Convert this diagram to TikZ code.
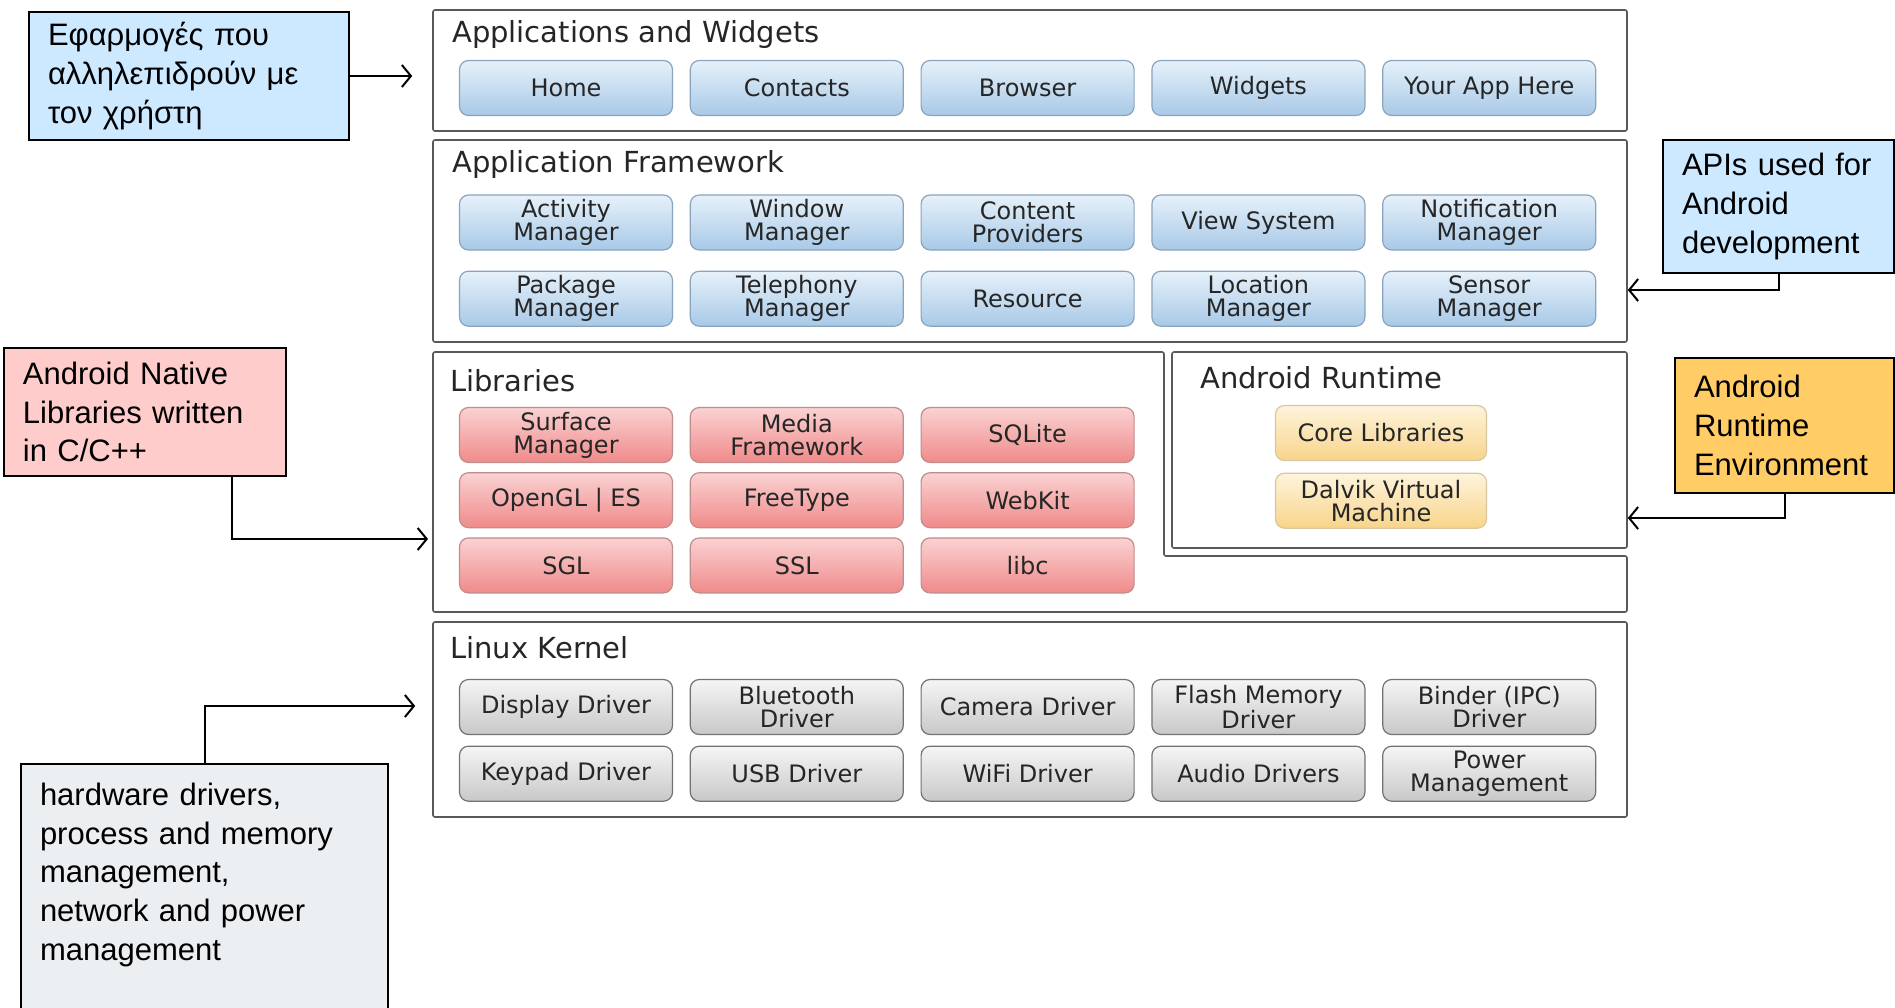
\documentclass[tikz,border=0pt]{standalone}
\usepackage{fontspec}
\newfontfamily\notefont{Liberation Sans}
\newfontfamily\layerfont{DejaVu Sans}
\usepackage{tikz}
\usetikzlibrary{positioning, shadings, arrows.meta}

\definecolor{noteblue}{HTML}{CCE9FF}
\definecolor{notepink}{HTML}{FFCCCC}
\definecolor{noteorange}{HTML}{FFCC66}
\definecolor{notegray}{HTML}{EBEFF2}
\definecolor{bluetop}{HTML}{E6F1FA}
\definecolor{bluebot}{HTML}{A8C9E7}
\definecolor{blueline}{HTML}{8AA4BE}
\definecolor{redtop}{HTML}{FAD2D2}
\definecolor{redmid}{HTML}{F7A9A9}
\definecolor{redbot}{HTML}{F08A8A}
\definecolor{redline}{HTML}{C08C8C}
\definecolor{yellowtop}{HTML}{FEF4DC}
\definecolor{yellowbot}{HTML}{F8D48A}
\definecolor{yellowline}{HTML}{D9C79E}
\definecolor{graytop}{HTML}{F5F5F5}
\definecolor{graybot}{HTML}{C8C8C8}

\begin{document}
\begin{tikzpicture}[x=1pt,y=-1pt,>={Straight Barb[length=9pt,width=22pt]},node distance=16.6pt]
				\tikzstyle{layer} = [draw=black!65, line width=1.6pt, rounded corners=2pt, fill=white]
				\tikzstyle{layertitle} = [font=\layerfont\fontsize{29}{32}\selectfont, anchor=west, inner sep=0pt, text=black!85]
				\tikzstyle{btn} = [rounded corners=9pt, line width=1.2pt, minimum width=213pt, minimum height=55pt, inner sep=1pt, align=center, font=\layerfont\fontsize{24}{23}\selectfont, text=black!85]
				\tikzstyle{bluebtn} = [btn, draw=blueline, top color=bluetop, bottom color=bluebot]
				\tikzstyle{redbtn} = [btn, draw=redline, top color=redtop, middle color=redmid, bottom color=redbot]
				\tikzstyle{yellowbtn} = [btn, draw=yellowline, top color=yellowtop, bottom color=yellowbot, minimum width=211pt]
				\tikzstyle{graybtn} = [btn, draw=black!55, top color=graytop, bottom color=graybot]
				\tikzstyle{note} = [draw=black, line width=1.6pt, inner xsep=19pt, inner ysep=0pt, align=left, font=\notefont\fontsize{31}{38.7}\selectfont]
				\tikzstyle{pointer} = [->, line width=2pt]

				\useasboundingbox (0,0) rectangle (1895,1007);

				% the four layers
				\node[layer, minimum width=1194pt, minimum height=121pt] (apps) at (1030,70.5) {};
				\node[layer, minimum width=1194pt, minimum height=202pt] (framework) at (1030,241) {};
				\draw[layer] (433,352) -- (1164,352) -- (1164,556) -- (1627,556) -- (1627,612) -- (433,612) -- cycle;
				\coordinate (libsedge) at (433,539);
				\node[layer, minimum width=455pt, minimum height=196pt] (runtime) at (1399.5,450) {};
				\node[layer, minimum width=1194pt, minimum height=195pt] (kernel) at (1030,719.5) {};

				\node[layertitle] (appstitle) at (452,34) {Applications and Widgets};
				\node[layertitle] (fwtitle) at (452,164) {Application Framework};
				\node[layertitle] (libstitle) at (450,381) {Libraries};
				\node[layertitle] (rttitle) at (1200,378) {Android Runtime};
				\node[layertitle] (kerneltitle) at (450,648) {Linux Kernel};

				% applications
				\node[bluebtn] (home) at (566,88) {Home};
				\node[bluebtn] (contacts) [right=of home] {Contacts};
				\node[bluebtn] (browser) [right=of contacts] {Browser};
				\node[bluebtn] (widgets) [right=of browser] {Widgets};
				\node[bluebtn] (yourapp) [right=of widgets] {Your App Here};

				% framework
				\node[bluebtn] (activity) at (566,222.5) {Activity\\Manager};
				\node[bluebtn] (window) [right=of activity] {Window\\Manager};
				\node[bluebtn] (content) [right=of window] {Content\\Providers};
				\node[bluebtn] (view) [right=of content] {View System};
				\node[bluebtn] (notification) [right=of view] {Notification\\Manager};
				\node[bluebtn] (package) [below=20pt of activity] {Package\\Manager};
				\node[bluebtn] (telephony) [right=of package] {Telephony\\Manager};
				\node[bluebtn] (resource) [right=of telephony] {Resource};
				\node[bluebtn] (location) [right=of resource] {Location\\Manager};
				\node[bluebtn] (sensor) [right=of location] {Sensor\\Manager};

				% libraries
				\node[redbtn] (surface) at (566,435) {Surface\\Manager};
				\node[redbtn] (media) [right=of surface] {Media\\Framework};
				\node[redbtn] (sqlite) [right=of media] {SQLite};
				\node[redbtn] (opengl) [below=9pt of surface] {OpenGL | ES};
				\node[redbtn] (freetype) [right=of opengl] {FreeType};
				\node[redbtn] (webkit) [right=of freetype] {WebKit};
				\node[redbtn] (sgl) [below=9pt of opengl] {SGL};
				\node[redbtn] (ssl) [right=of sgl] {SSL};
				\node[redbtn] (libc) [right=of ssl] {libc};

				% runtime
				\node[yellowbtn] (corelibs) at (1381,433) {Core Libraries};
				\node[yellowbtn] (dalvik) [below=11.5pt of corelibs] {Dalvik Virtual\\Machine};

				% kernel
				\node[graybtn] (display) at (566,707) {Display Driver};
				\node[graybtn] (bluetooth) [right=of display] {Bluetooth\\Driver};
				\node[graybtn] (camera) [right=of bluetooth] {Camera Driver};
				\node[graybtn] (flash) [right=of camera] {Flash Memory\\Driver};
				\node[graybtn] (binder) [right=of flash] {Binder (IPC)\\Driver};
				\node[graybtn] (keypad) [below=10.5pt of display] {Keypad Driver};
				\node[graybtn] (usb) [right=of keypad] {USB Driver};
				\node[graybtn] (wifi) [right=of usb] {WiFi Driver};
				\node[graybtn] (audio) [right=of wifi] {Audio Drivers};
				\node[graybtn] (power) [right=of audio] {Power\\Management};

				% notes round the stack
				\node[note, fill=noteblue, minimum height=128pt, text width=282pt] (users) at (189,76) {Εφαρμογές που\\αλληλεπιδρούν με\\τον χρήστη};
				\node[note, fill=noteblue, minimum height=133pt, text width=193pt] (apis) at (1778.5,206.5) {APIs used for\\Android\\development};
				\node[note, fill=notepink, minimum height=128pt, text width=244pt] (native) at (145,412) {Android Native\\Libraries written\\in C/C++};
				\node[note, fill=noteorange, minimum height=135pt, text width=181pt] (rtenv) at (1784.5,425.5) {Android\\Runtime\\Environment};
				\node[note, fill=notegray, minimum height=254pt, text width=329pt] (hw) at (204.5,891) {hardware drivers,\\process and memory\\management,\\network and power\\management\\\mbox{}};

				\draw[pointer, shorten >=20pt] (users.east) -- (users.east -| apps.west);
				\draw[pointer] (apis.south) |- ([yshift=-49pt]framework.east);
				\draw[pointer, shorten >=5pt] ([xshift=87pt]native.south) |- (libsedge);
				\draw[pointer] (rtenv.south) |- ([yshift=-68pt]runtime.east);
				\draw[pointer, shorten >=17pt] (hw.north) |- ([yshift=13.5pt]kernel.west);
			\end{tikzpicture}
\end{document}
